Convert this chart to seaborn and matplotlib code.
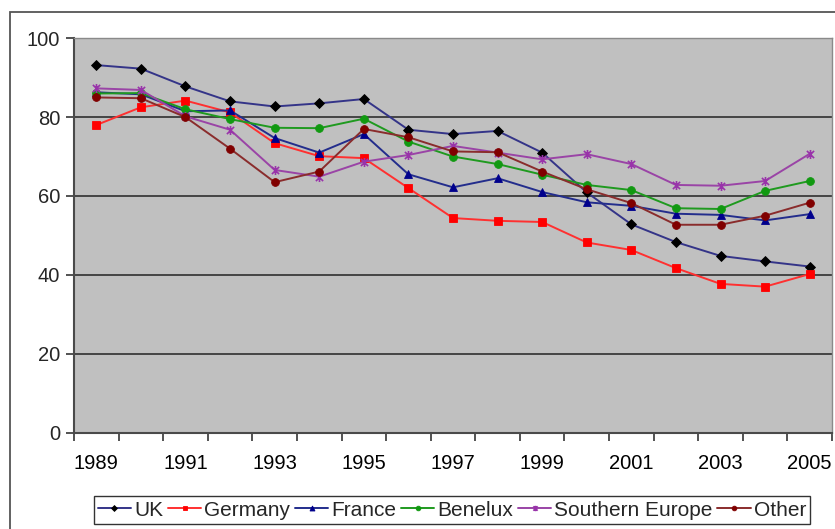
import matplotlib
matplotlib.use("Agg")
import matplotlib.pyplot as plt
import matplotlib.patches as mpatches
from matplotlib.path import Path
from matplotlib.ticker import FixedLocator
import numpy as np
import pandas as pd
import seaborn as sns

# Share of the market held by each group, 1989-2005
years = list(range(1989, 2006))
uk = [93.2, 92.3, 87.8, 84.0, 82.7, 83.5, 84.6, 76.8, 75.7, 76.5, 71.0, 60.9, 52.8, 48.3, 44.8, 43.4, 42.1]
germany = [78.0, 82.5, 84.2, 81.2, 73.4, 70.1, 69.6, 62.0, 54.4, 53.7, 53.4, 48.2, 46.3, 41.7, 37.7, 37.0, 40.2]
france = [86.3, 85.8, 81.5, 81.7, 74.7, 71.0, 75.7, 65.5, 62.2, 64.5, 61.0, 58.4, 57.5, 55.5, 55.2, 53.8, 55.4]
benelux = [86.0, 86.1, 82.0, 79.5, 77.3, 77.2, 79.6, 73.8, 70.0, 68.1, 65.4, 62.8, 61.5, 56.9, 56.7, 61.3, 63.8]
southern_europe = [87.3, 86.9, 80.2, 76.8, 66.6, 64.9, 68.7, 70.4, 72.7, 71.0, 69.3, 70.6, 68.1, 62.8, 62.6, 63.8, 70.7]
other = [85.0, 84.8, 80.0, 72.0, 63.5, 66.2, 77.0, 74.9, 71.3, 71.1, 66.2, 61.7, 58.2, 52.7, 52.7, 55.0, 58.3]

series_names = ["UK", "Germany", "France", "Benelux", "Southern Europe", "Other"]
series_values = [uk, germany, france, benelux, southern_europe, other]

# asterisk-style marker: an X crossed by a vertical bar
star_path = Path(
    [(-1, -1), (1, 1), (-1, 1), (1, -1), (0, -1.25), (0, 1.25)],
    [Path.MOVETO, Path.LINETO, Path.MOVETO, Path.LINETO, Path.MOVETO, Path.LINETO],
)

styles = {
    "UK": dict(color="#343488", marker="D", mfc="#000000", mec="#000000", ms=5.0),
    "Germany": dict(color="#ff3030", marker="s", mfc="#ff0000", mec="#ff0000", ms=5.2),
    "France": dict(color="#232d8c", marker="^", mfc="#00008c", mec="#00008c", ms=6.0),
    "Benelux": dict(color="#1f9a1f", marker="o", mfc="#119911", mec="#119911", ms=5.6),
    "Southern Europe": dict(color="#9a44a6", marker=star_path, mfc="none", mec="#9933aa", ms=6.5),
    "Other": dict(color="#8a2c2c", marker="o", mfc="#800000", mec="#800000", ms=5.6),
}

sns.set_theme(style="white")
plt.rcParams["font.family"] = ["Liberation Sans", "DejaVu Sans"]

fig = plt.figure(figsize=(8.35, 5.29), dpi=100)
ax = fig.add_axes([74 / 835, 1 - 432.5 / 529, (832 - 74) / 835, (432.5 - 38.3) / 529])
ax.set_facecolor("#c0c0c0")

for name, vals in zip(series_names, series_values):
    st = styles[name]
    df = pd.DataFrame({"year": years, "value": vals})
    sns.lineplot(
        data=df, x="year", y="value", ax=ax, label=name,
        color=st["color"], linewidth=1.4,
        marker=st["marker"], markersize=st["ms"],
        markerfacecolor=st["mfc"], markeredgecolor=st["mec"],
        markeredgewidth=1.2 if name == "Southern Europe" else 0.6,
        legend=False,
    )

ax.set_xlim(years[0] - 0.5, years[-1] + 0.5)
ax.set_ylim(0, 100)
ax.set_xlabel("")
ax.set_ylabel("")

# labels every other year, tick marks between categories
ax.xaxis.set_major_locator(FixedLocator(years[::2]))
ax.set_xticklabels([str(y) for y in years[::2]])
ax.xaxis.set_minor_locator(FixedLocator(np.arange(years[0] - 0.5, years[-1] + 1.0, 1.0)))
ax.tick_params(axis="x", which="major", length=0, pad=15.5, labelsize=14.5, colors="#000000")
ax.tick_params(axis="x", which="minor", length=6, width=1.3, color="#444444", direction="out", bottom=True)

ax.set_yticks([0, 20, 40, 60, 80, 100])
ax.tick_params(axis="y", which="major", length=6, width=1.3, color="#444444", direction="out",
               pad=4, labelsize=14.5, left=True)

ax.yaxis.grid(True, color="#3a3a3a", linewidth=1.3)
ax.xaxis.grid(False)
ax.set_axisbelow(True)

for side in ("left", "bottom"):
    ax.spines[side].set_color("#4a4a4a")
    ax.spines[side].set_linewidth(1.5)
for side in ("top", "right"):
    ax.spines[side].set_color("#8a8a8a")
    ax.spines[side].set_linewidth(1.0)

handles, labels = ax.get_legend_handles_labels()
leg = fig.legend(
    handles, labels, loc="center", bbox_to_anchor=(452 / 835, 1 - 510 / 529),
    ncol=6, fontsize=15, frameon=True, fancybox=False, shadow=False,
    handlelength=1.6, handletextpad=0.15, columnspacing=0.22, borderpad=0.2,
    borderaxespad=0, markerscale=0.6,
)
leg.get_frame().set_edgecolor("#000000")
leg.get_frame().set_linewidth(1.0)

# outer frame around the chart
fig.patches.append(mpatches.Rectangle(
    (10 / 835, -0.05), 1.2, 1.05 - 12 / 529,
    transform=fig.transFigure, fill=False, edgecolor="#555555", linewidth=1.3, zorder=0,
))

fig.savefig("out.png", dpi=100)
